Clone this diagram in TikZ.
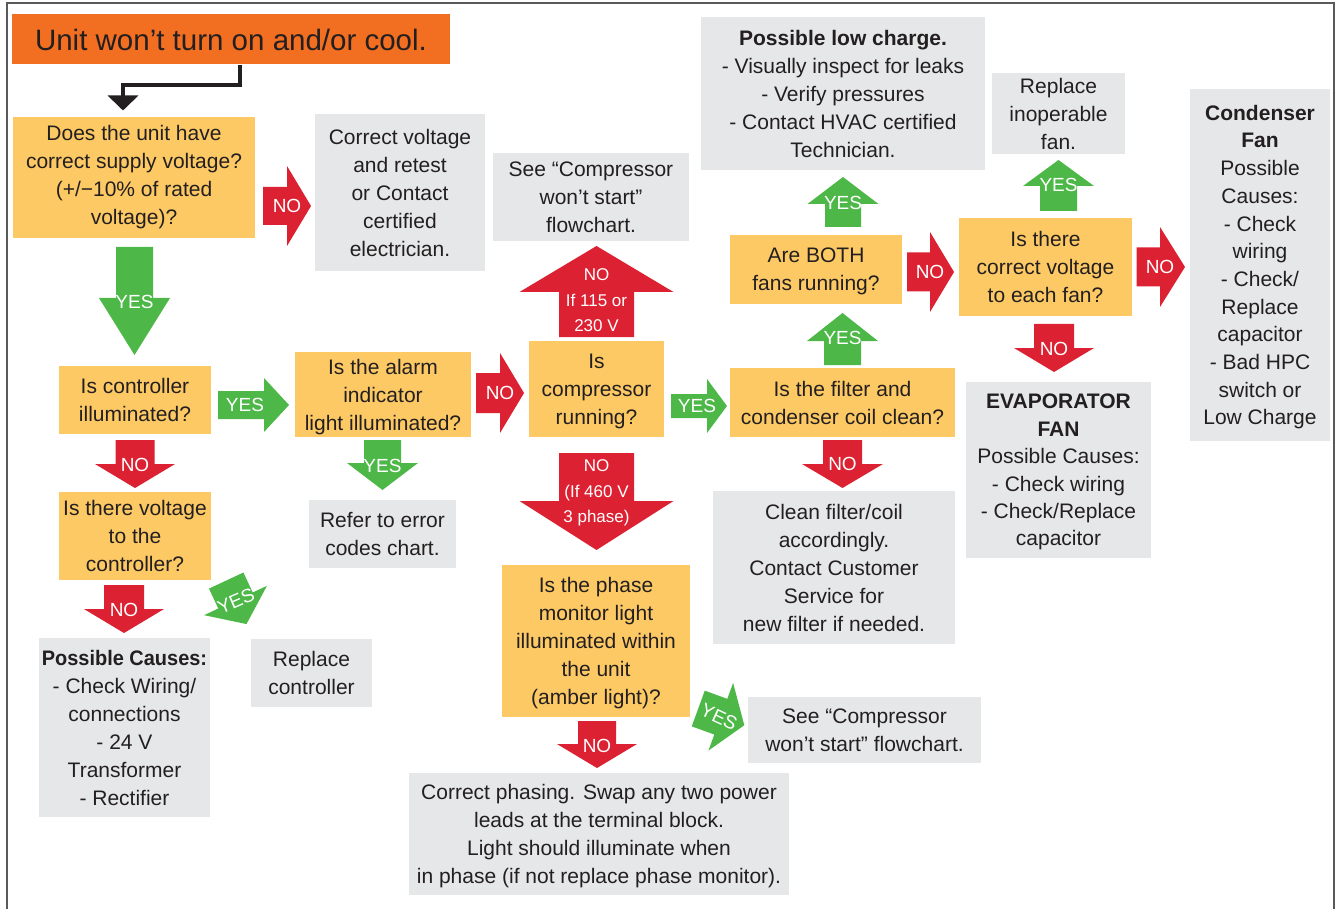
\documentclass[tikz,border=0pt]{standalone}
\usepackage{fontspec}
\setmainfont{Liberation Sans}
\usetikzlibrary{arrows.meta}
\definecolor{ttl}{HTML}{F26F21}
\definecolor{yel}{HTML}{FDC964}
\definecolor{gry}{HTML}{E6E7E8}
\definecolor{rd}{HTML}{DC2132}
\definecolor{gn}{HTML}{4DB848}
\definecolor{txt}{HTML}{231F20}
\definecolor{frm}{HTML}{5A5A5A}
% block arrow: #1 base centre of head, #2 angle, #3 body length, #4 body half width,
% #5 head half width, #6 head length, #7 colour
\newcommand{\blockarr}[7]{\fill[#7, shift={(#1)}, rotate=#2] (-#3,-#4) -- (0,-#4) -- (0,-#5) -- (#6,0) -- (0,#5) -- (0,#4) -- (-#3,#4) -- cycle;}
\tikzset{
  base/.style={inner sep=0pt, align=center, text=txt, font=\fontsize{21}{28}\selectfont},
  qbox/.style={base, fill=yel, text depth=0pt},
  abox/.style={base, fill=gry, text depth=0pt},
  lbl/.style={inner sep=0pt, text=white, font=\fontsize{19}{22}\selectfont},
  slbl/.style={inner sep=0pt, align=center, text=white, font=\fontsize{17}{25.5}\selectfont},
}
\begin{document}
\begin{tikzpicture}[x=1pt,y=-1pt]
\useasboundingbox (0,0) rectangle (1336,909);
\draw[frm, line width=1.3] (7,909) -- (7,3) -- (1334,3) -- (1334,909);

% boxes
\node[base, fill=ttl, minimum width=438, minimum height=50, font=\fontsize{29.5}{34}\selectfont] (title) at (231,39.5) {Unit won’t turn on and/or cool.};
\node[base, fill=yel, minimum width=242, minimum height=121] (q1) at (134,177.5) {Does the unit have\\correct supply voltage?\\(+/−10\% of rated\\voltage)?};
\node[abox, minimum width=170, minimum height=157] (cv) at (400,192.5) {Correct voltage\\and retest\\or Contact\\certified\\electrician.};
\node[abox, minimum width=196, minimum height=88] (sc1) at (591,197) {See “Compressor\\won’t start”\\flowchart.};
\node[qbox, minimum width=152, minimum height=68] (q2) at (135,399.5) {Is controller\\illuminated?};
\node[qbox, minimum width=176, minimum height=85] (q3) at (383,394.5) {Is the alarm\\indicator\\light illuminated?};
\node[abox, minimum width=147, minimum height=68] (refer) at (382.5,534) {Refer to error\\codes chart.};
\node[qbox, minimum width=152, minimum height=88] (q4) at (135,536) {Is there voltage\\to the\\controller?};
\node[abox, minimum width=171, minimum height=179] (pc) at (124.5,727.5) {\scalebox{0.95}[1]{\textbf{Possible Causes:}}\\- Check Wiring/\\connections\\- 24 V\\Transformer\\- Rectifier};
\node[abox, minimum width=121, minimum height=68] (rc) at (311.5,673) {Replace\\controller};
\node[qbox, minimum width=135, minimum height=96] (q5) at (596.5,389) {Is\\compressor\\running?};
\node[qbox, minimum width=188, minimum height=152] (q6) at (596,641) {Is the phase\\monitor light\\illuminated within\\the unit\\(amber light)?};
\node[abox, minimum width=233, minimum height=66] (sc2) at (864.5,730) {See “Compressor\\won’t start” flowchart.};
\node[abox, minimum width=380, minimum height=122] (cp) at (599,834) {Correct phasing. Swap any two power\\leads at the terminal block.\\Light should illuminate when\\in phase (if not replace phase monitor).};
\node[qbox, minimum width=225, minimum height=69] (q7) at (842.5,402.5) {Is the filter and\\condenser coil clean?};
\node[abox, minimum width=242, minimum height=153] (cf) at (834,567.5) {Clean filter/coil\\accordingly.\\Contact Customer\\Service for\\new filter if needed.};
\node[qbox, minimum width=172, minimum height=69] (q8) at (816,269.5) {Are BOTH\\fans running?};
\node[abox, minimum width=284, minimum height=153] (lc) at (843,93.5) {\textbf{Possible low charge.}\\- Visually inspect for leaks\\- Verify pressures\\- Contact HVAC certified\\Technician.};
\node[qbox, minimum width=173, minimum height=98] (q9) at (1045.5,267) {Is there\\correct voltage\\to each fan?};
\node[abox, minimum width=133, minimum height=81] (rf) at (1058.5,113.5) {Replace\\inoperable\\fan.};
\node[abox, minimum width=185, minimum height=176, font=\fontsize{21}{27.4}\selectfont] (ev) at (1058.5,470) {\textbf{EVAPORATOR}\\\textbf{FAN}\\Possible Causes:\\- Check wiring\\- Check/Replace\\capacitor};
\node[abox, minimum width=140, minimum height=352, font=\fontsize{21}{27.7}\selectfont] (cfan) at (1260,265) {\textbf{Condenser}\\\textbf{Fan}\\Possible\\Causes:\\- Check\\wiring\\- Check/\\Replace\\capacitor\\- Bad HPC\\switch or\\Low Charge};

% start connector
\coordinate (e1) at (239.5,85.5);
\coordinate (e2) at (123,85.5);
\coordinate (e3) at (123,110.5);
\draw[txt, line width=4pt, line join=miter, -{Triangle[width=30pt,length=15pt]}] (title.south -| e1) -- (e1) -- (e2) -- (e3);

% block arrows
\blockarr{287,206}{0}{24}{19}{40}{24}{rd}
\node[lbl] (a1) at (287,206) {NO};
\blockarr{134.5,298}{-90}{51}{18.5}{35.5}{57}{gn}
\node[lbl] (a2) at (134.5,302) {YES};
\blockarr{264,405}{0}{46}{14}{27}{25}{gn}
\node[lbl] (a3) at (245,405) {YES};
\blockarr{135,464}{-90}{24}{19.5}{40}{24}{rd}
\node[lbl] (a4) at (135,465) {NO};
\blockarr{382.5,463}{-90}{23}{18.5}{35.5}{27}{gn}
\node[lbl] (a5) at (382.5,466) {YES};
\blockarr{124,609}{-90}{24}{20}{40}{24}{rd}
\node[lbl] (a6) at (124,610) {NO};
\blockarr{235.5,600.5}{-65}{22}{19}{34.7}{26}{gn}
\node[lbl, rotate=23] (a7) at (236,601) {YES};
\blockarr{500,393}{0}{24}{20}{40}{24}{rd}
\node[lbl] (a8) at (500,393) {NO};
\blockarr{596.5,292}{90}{45}{37.5}{77}{46}{rd}
\node[slbl] (a9) at (596.5,300.5) {NO\\If 115 or\\230 V};
\blockarr{596.5,501}{-90}{48}{37.5}{77}{49}{rd}
\node[slbl] (a10) at (596.5,493) {NO\\(If 460 V\\3 phase)};
\blockarr{707,406}{0}{36}{12}{27}{20}{gn}
\node[lbl] (a11) at (697,406) {YES};
\blockarr{842.5,341}{90}{24}{18.5}{35.5}{28}{gn}
\node[lbl] (a12) at (842.5,338) {YES};
\blockarr{842.5,464}{-90}{24}{19.5}{40.5}{24}{rd}
\node[lbl] (a13) at (842.5,464) {NO};
\blockarr{843,204}{90}{23}{18}{35.5}{27}{gn}
\node[lbl] (a14) at (843,203) {YES};
\blockarr{930,272}{0}{23}{19.5}{40}{24}{rd}
\node[lbl] (a15) at (930,272) {NO};
\blockarr{1058.5,186}{90}{25}{18.5}{35.5}{26}{gn}
\node[lbl] (a16) at (1058.5,185) {YES};
\blockarr{1160,267}{0}{23.5}{19.5}{40}{25}{rd}
\node[lbl] (a17) at (1160,267) {NO};
\blockarr{1054,348}{-90}{24}{20}{40}{24}{rd}
\node[lbl] (a18) at (1054,349) {NO};
\blockarr{597,744}{-90}{23}{19}{40}{24}{rd}
\node[lbl] (a19) at (597,746) {NO};
\blockarr{720.8,716.7}{-20}{24}{19}{36}{25}{gn}
\node[lbl, rotate=-25] (a20) at (719,717) {YES};
\end{tikzpicture}
\end{document}
